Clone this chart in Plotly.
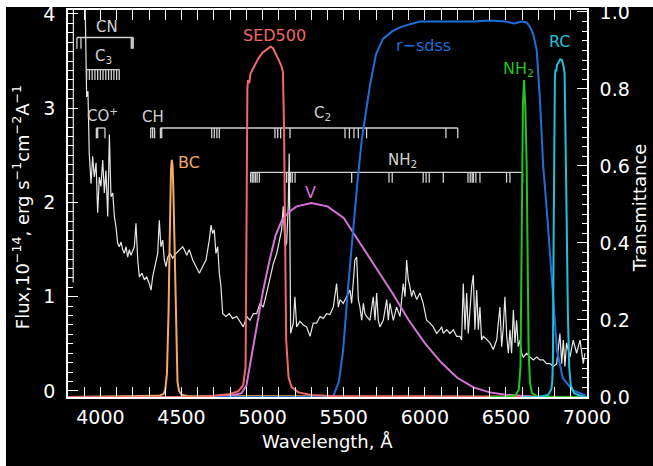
import plotly.graph_objects as go

# ---------------- data ----------------
spec_wl = [3832, 3834, 3888, 3915, 3923, 3931, 3942, 3952, 3962, 3973, 3983, 3993, 4003, 4014, 4024, 4034, 4045,
           4055, 4065, 4076, 4086, 4096, 4106, 4116, 4127, 4137, 4147, 4158, 4168, 4178, 4188, 4199, 4209, 4219,
           4230, 4240, 4256, 4271, 4285, 4301, 4312, 4322, 4332, 4343, 4353, 4363, 4373, 4384, 4394, 4404, 4415,
           4429, 4445, 4466, 4486, 4507, 4517, 4532, 4548, 4569, 4589, 4610, 4630, 4651, 4671, 4682, 4692, 4702,
           4712, 4723, 4733, 4743, 4754, 4774, 4794, 4815, 4840, 4860, 4881, 4902, 4922, 4943, 4963, 4984, 5004,
           5025, 5045, 5066, 5087, 5107, 5117, 5127, 5138, 5148, 5158, 5164, 5173, 5189, 5199, 5210, 5230, 5251,
           5271, 5292, 5312, 5333, 5354, 5374, 5395, 5415, 5436, 5456, 5467, 5477, 5497, 5518, 5539, 5549, 5559,
           5569, 5580, 5590, 5600, 5611, 5621, 5631, 5641, 5662, 5682, 5693, 5703, 5713, 5723, 5744, 5765, 5775,
           5785, 5796, 5806, 5826, 5847, 5867, 5878, 5888, 5898, 5908, 5919, 5929, 5950, 5970, 5990, 6011, 6032,
           6052, 6073, 6093, 6104, 6114, 6135, 6155, 6176, 6196, 6217, 6227, 6237, 6248, 6258, 6268, 6278, 6289,
           6299, 6309, 6320, 6330, 6340, 6350, 6361, 6381, 6402, 6422, 6443, 6463, 6474, 6484, 6494, 6505, 6515,
           6525, 6535, 6546, 6556, 6566, 6576, 6587, 6597, 6607, 6628, 6648, 6669, 6690, 6710, 6730, 6751, 6772,
           6792, 6813, 6833, 6844, 6854, 6864, 6874, 6895, 6915, 6936, 6957, 6977, 6987]
spec_flux = [1.15, 6.0, 6.0, 3.12, 3.18, 2.52, 2.20, 2.49, 2.27, 2.42, 1.89, 2.27, 2.17, 2.45, 2.10, 2.34, 1.85,
             2.72, 2.06, 2.10, 1.85, 1.74, 1.57, 1.53, 1.58, 1.50, 1.46, 1.53, 1.42, 1.50, 1.44, 1.50, 1.53, 1.78,
             1.39, 1.21, 1.25, 1.18, 1.21, 1.14, 1.07, 1.21, 1.28, 1.39, 1.46, 1.81, 1.53, 1.60, 1.39, 1.32, 1.42,
             1.46, 1.41, 1.46, 1.50, 1.53, 1.50, 1.44, 1.50, 1.39, 1.32, 1.25, 1.32, 1.39, 1.60, 1.76, 1.67, 1.71,
             1.46, 1.53, 1.25, 1.11, 0.82, 0.79, 0.82, 0.77, 0.79, 0.74, 0.68, 0.79, 0.75, 0.82, 0.82, 0.93, 0.89,
             1.04, 1.18, 1.35, 1.46, 1.64, 1.71, 1.96, 1.53, 1.57, 1.96, 2.52, 0.61, 0.72, 1.00, 0.68, 0.74, 0.70,
             0.68, 0.58, 0.72, 0.72, 0.79, 0.77, 0.82, 0.81, 0.89, 1.14, 0.89, 0.97, 0.93, 1.00, 1.07, 0.93, 1.18,
             1.39, 1.42, 0.97, 0.89, 0.75, 0.93, 0.82, 0.79, 0.75, 1.00, 0.75, 1.04, 0.75, 0.68, 0.75, 0.97, 0.75,
             0.93, 0.82, 0.75, 0.89, 0.79, 1.14, 1.00, 1.39, 1.18, 1.11, 1.00, 1.07, 0.97, 1.04, 0.93, 0.75, 0.72,
             0.68, 0.61, 0.65, 0.68, 0.61, 0.65, 0.61, 0.65, 0.58, 0.58, 0.54, 1.14, 0.65, 1.04, 0.61, 0.86, 1.11,
             1.23, 0.65, 1.07, 0.65, 0.89, 0.54, 0.58, 0.54, 0.51, 0.44, 0.54, 0.89, 0.47, 0.68, 1.00, 0.58, 0.40,
             0.65, 0.40, 0.86, 0.51, 0.75, 0.47, 0.54, 0.40, 0.36, 0.40, 0.36, 0.33, 0.36, 0.33, 0.33, 0.29, 0.29,
             0.26, 0.29, 0.61, 0.29, 0.54, 0.26, 0.51, 0.36, 0.54, 0.40, 0.54, 0.29, 0.40]

bc_wl = [3800, 4360, 4390, 4400, 4410, 4415, 4420, 4425, 4430, 4435, 4440, 4445, 4450, 4455, 4460, 4465, 4470,
         4475, 4485, 4500, 4540, 7000]
bc_t = [0.0, 0.003, 0.008, 0.02, 0.06, 0.12, 0.22, 0.36, 0.50, 0.59, 0.616, 0.60, 0.53, 0.42, 0.30, 0.18, 0.08,
        0.04, 0.015, 0.006, 0.002, 0.0]

sed_wl = [3800, 4600, 4700, 4800, 4850, 4880, 4895, 4900, 4903, 4906, 4910, 4918, 4925, 4950, 4975, 5000, 5030,
          5050, 5065, 5085, 5100, 5115, 5125, 5132, 5138, 5145, 5160, 5180, 5220, 5300, 5450, 7000]
sed_t = [0.0, 0.0, 0.003, 0.008, 0.015, 0.03, 0.08, 0.3, 0.6, 0.80, 0.823, 0.815, 0.84, 0.86, 0.88, 0.895, 0.905,
         0.91, 0.905, 0.89, 0.875, 0.86, 0.845, 0.70, 0.40, 0.15, 0.05, 0.025, 0.012, 0.005, 0.002, 0.0]

v_wl = [3800, 4700, 4800, 4870, 4900, 4930, 4960, 5000, 5040, 5080, 5120, 5160, 5210, 5300, 5400, 5500, 5600,
        5700, 5800, 5900, 6000, 6100, 6200, 6300, 6400, 6500, 6600, 6700, 7000]
v_t = [0.0, 0.0, 0.003, 0.01, 0.03, 0.10, 0.18, 0.27, 0.35, 0.42, 0.46, 0.48, 0.495, 0.504, 0.495, 0.465, 0.40,
       0.335, 0.27, 0.20, 0.14, 0.09, 0.05, 0.025, 0.012, 0.006, 0.003, 0.0, 0.0]

r_wl = [4700, 5434, 5470, 5496, 5530, 5557, 5585, 5612, 5662, 5699, 5742, 5800, 5847, 5900, 5970, 6100, 6200,
        6300, 6400, 6500, 6550, 6600, 6630, 6650, 6670, 6690, 6710, 6730, 6755, 6790, 6815, 6850, 6910, 6990]
r_t = [0.0, 0.0, 0.04, 0.12, 0.30, 0.43, 0.56, 0.67, 0.81, 0.89, 0.93, 0.95, 0.96, 0.967, 0.975, 0.975, 0.975,
       0.975, 0.978, 0.975, 0.970, 0.975, 0.972, 0.96, 0.94, 0.90, 0.77, 0.60, 0.47, 0.25, 0.12, 0.05, 0.018, 0.005]

nh2_wl = [6400, 6500, 6560, 6580, 6590, 6596, 6600, 6605, 6612, 6620, 6628, 6635, 6640, 6648, 6660, 6700, 7000]
nh2_t = [0.0, 0.0, 0.005, 0.02, 0.08, 0.3, 0.6, 0.76, 0.823, 0.75, 0.6, 0.35, 0.12, 0.04, 0.01, 0.0, 0.0]

rc_wl = [6600, 6700, 6760, 6780, 6786, 6790, 6794, 6798, 6802, 6806, 6810, 6815, 6825, 6835, 6845, 6855, 6862,
         6868, 6875, 6882, 6890, 6900, 6920, 6960, 7000]
rc_t = [0.0, 0.0, 0.005, 0.02, 0.04, 0.10, 0.40, 0.70, 0.83, 0.85, 0.845, 0.862, 0.87, 0.877, 0.875, 0.86, 0.84,
        0.70, 0.45, 0.22, 0.08, 0.03, 0.01, 0.003, 0.0]

# molecular band line positions (Angstrom)
cn_lines = [3855, 3880, 4190, 4196, 4202]
c3_lines = [3915, 3932, 3949, 3966, 3983, 4000, 4016, 4033, 4050, 4067, 4083, 4100, 4116]
cop_lines = [3975, 3983, 4028]
ch_lines = [4310, 4322, 4334]
c2_lines = [4370, 4378, 4686, 4702, 4718, 4733, 5076, 5093, 5111, 5169, 5508, 5535, 5563, 5590, 5641, 6130, 6203]
nh2_lines = [4926, 4936, 4946, 4956, 4966, 4980, 5148, 5160, 5172, 5183, 5200, 5549, 5779, 5799, 5990, 6008,
             6027, 6114, 6266, 6280, 6292, 6300, 6315, 6340, 6504, 6525, 6603]

WHITE = "#ffffff"
SPEC = "#e6e6e6"
BANDC = "#d2d2d2"
C_BC = "#f5a964"
C_SED = "#f06868"
C_V = "#d673d6"
C_R = "#1f6ed8"
C_NH2 = "#22c422"
C_RC = "#20c0dc"
FONT = "DejaVu Sans"

fig = go.Figure()

fig.add_trace(go.Scatter(x=spec_wl, y=spec_flux, mode="lines", line=dict(color=SPEC, width=1.2),
                         yaxis="y", showlegend=False, hoverinfo="skip"))


def bracket(lines, ytop, ybot):
    xs, ys = [min(lines), max(lines), None], [ytop, ytop, None]
    for w in lines:
        xs += [w, w, None]
        ys += [ytop, ybot, None]
    fig.add_trace(go.Scatter(x=xs, y=ys, mode="lines", line=dict(color=BANDC, width=1.3),
                             yaxis="y", showlegend=False, hoverinfo="skip"))


bracket(cn_lines, 3.75, 3.63)
bracket(c3_lines, 3.41, 3.30)
bracket(cop_lines, 2.79, 2.68)
bracket(ch_lines, 2.79, 2.68)
bracket(c2_lines, 2.79, 2.68)
bracket(nh2_lines, 2.32, 2.21)

for wl, t, c in [(bc_wl, bc_t, C_BC), (v_wl, v_t, C_V), (r_wl, r_t, C_R), (sed_wl, sed_t, C_SED),
                 (nh2_wl, nh2_t, C_NH2), (rc_wl, rc_t, C_RC)]:
    fig.add_trace(go.Scatter(x=wl, y=t, mode="lines", line=dict(color=c, width=2),
                             yaxis="y2", showlegend=False, hoverinfo="skip"))

ann = []
def lab(text, x, y, yref, color, size=15):
    ann.append(dict(text=text, x=x, y=y, xref="x", yref=yref, showarrow=False,
                    xanchor="center", yanchor="middle",
                    font=dict(family=FONT, size=size, color=color)))

lab("CN", 4040, 3.86, "y", BANDC)
lab("C<sub>3</sub>", 4020, 3.55, "y", BANDC)
lab("CO<sup>+</sup>", 4015, 2.93, "y", BANDC)
lab("CH", 4322, 2.91, "y", BANDC)
lab("C<sub>2</sub>", 5370, 2.94, "y", BANDC)
lab("NH<sub>2</sub>", 5860, 2.45, "y", BANDC)

lab("SED500", 5076, 0.94, "y2", C_SED, 16)
lab("r\u2212sdss", 5989, 0.914, "y2", C_R, 16)
lab("NH<sub>2</sub>", 6575, 0.85, "y2", C_NH2, 16)
lab("RC", 6833, 0.922, "y2", C_RC, 16)
lab("BC", 4546, 0.608, "y2", C_BC, 16)
lab("V", 5298, 0.532, "y2", C_V, 16)

# axis titles
ann.append(dict(text="Flux,10<sup>\u221214</sup>, erg s<sup>\u22121</sup>cm<sup>\u22122</sup>A<sup>\u22121</sup>",
                x=-0.089, y=0.49, xref="paper", yref="paper", textangle=-90, showarrow=False,
                xanchor="center", yanchor="middle", font=dict(family=FONT, size=18, color=WHITE)))
ann.append(dict(text="Transmittance", x=1.1, y=0.49, xref="paper", yref="paper", textangle=-90,
                showarrow=False, xanchor="center", yanchor="middle",
                font=dict(family=FONT, size=18, color=WHITE)))
ann.append(dict(text="Wavelength, \u00c5", x=0.5, y=-0.115, xref="paper", yref="paper", showarrow=False,
                xanchor="center", yanchor="middle", font=dict(family=FONT, size=18, color=WHITE)))

axis_common = dict(showgrid=False, zeroline=False, showline=True, linecolor=WHITE, linewidth=1.5,
                   ticks="inside", tickcolor=WHITE, tickwidth=1.3, ticklen=10, automargin=False,
                   tickfont=dict(family=FONT, size=19, color=WHITE))

fig.update_layout(
    width=653, height=466,
    margin=dict(l=68, r=66, t=10, b=69, autoexpand=False),
    paper_bgcolor="white", plot_bgcolor="black",
    xaxis=dict(range=[3800, 7000], dtick=500, tick0=4000, mirror="allticks", ticklabelstandoff=2,
               minor=dict(dtick=100, ticks="inside", ticklen=5, tickcolor=WHITE, tickwidth=1.2),
               **axis_common),
    yaxis=dict(range=[-0.064, 4.042], dtick=1, tick0=0, ticklabelstandoff=7,
               minor=dict(dtick=0.1, ticks="inside", ticklen=5, tickcolor=WHITE, tickwidth=1.2),
               **axis_common),
    yaxis2=dict(range=[0, 1.005], dtick=0.2, tick0=0, overlaying="y", side="right", tickformat=".1f",
                ticklabelstandoff=7,
                minor=dict(dtick=0.025, ticks="inside", ticklen=5, tickcolor=WHITE, tickwidth=1.2),
                **axis_common),
    annotations=ann,
    shapes=[
        # black canvas leaving a thin white strip at the top and left edges
        dict(type="rect", xref="paper", yref="paper", x0=-0.1195, x1=1.2, y0=-0.3, y1=1.0078,
             fillcolor="black", line=dict(width=0), layer="below"),
    ],
)

fig.write_html("out.html", config={"displayModeBar": False},
               post_script="document.body.style.margin='0';document.body.style.padding='0';"
                           "document.body.style.overflow='hidden';")
